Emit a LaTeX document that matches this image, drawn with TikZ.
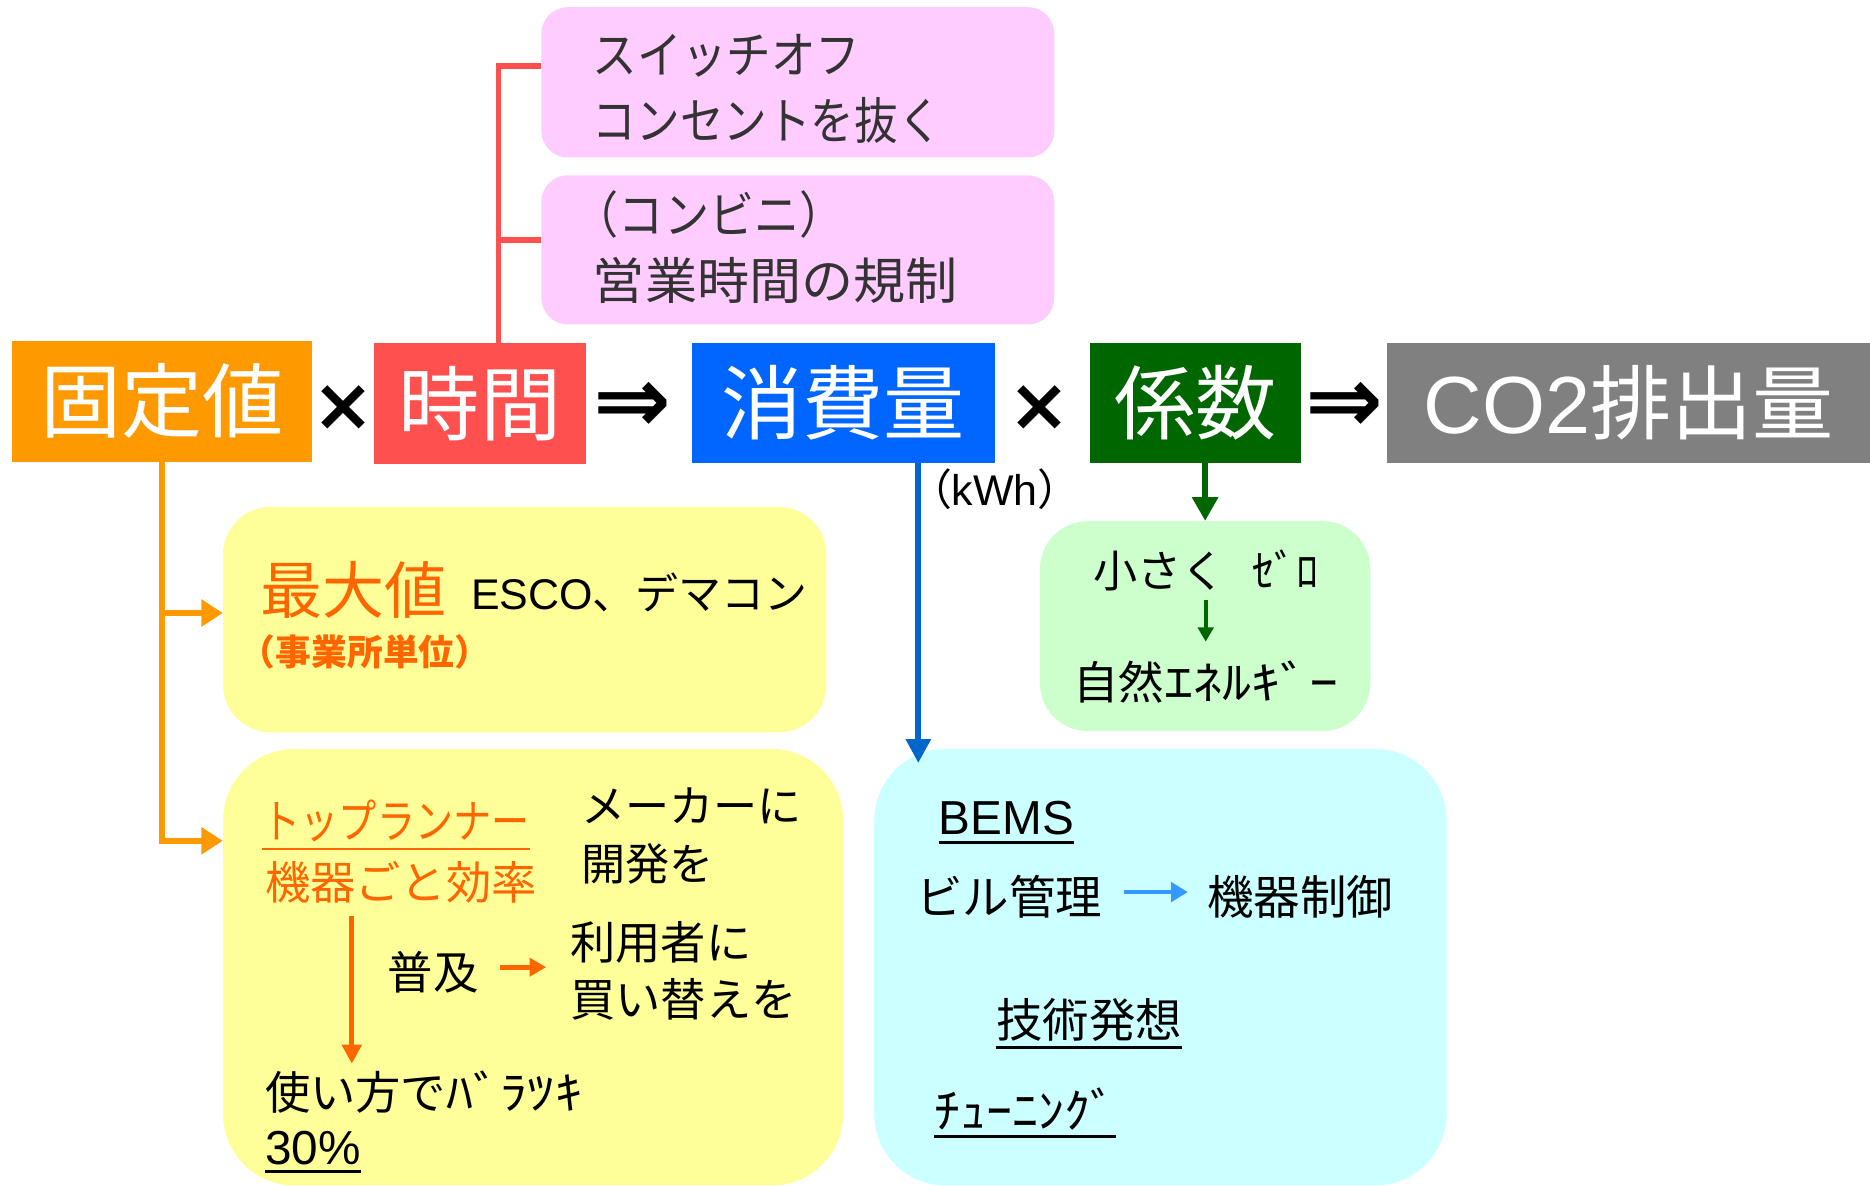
\documentclass[tikz,border=0pt]{standalone}
\usepackage{fontspec}
\usepackage{graphicx}
\setmainfont{Noto Sans CJK JP}
\newfontfamily\lat{Liberation Sans}
\newfontfamily\sym{DejaVu Sans}
\usetikzlibrary{arrows.meta,calc}
\definecolor{cOrange}{HTML}{FF9900}
\definecolor{cRed}{HTML}{FF5050}
\definecolor{cBlue}{HTML}{0066FF}
\definecolor{cDGreen}{HTML}{006600}
\definecolor{cGray}{HTML}{808080}
\definecolor{cPink}{HTML}{FFCCFF}
\definecolor{cYellow}{HTML}{FFFF99}
\definecolor{cGreenL}{HTML}{CCFFCC}
\definecolor{cCyan}{HTML}{CCFFFF}
\definecolor{cOrT}{HTML}{FF6600}
\definecolor{cBlueL}{HTML}{0066CC}
\definecolor{cSky}{HTML}{3399FF}
\definecolor{cDark}{HTML}{333333}
\newcommand\fsz[1]{\fontsize{#1}{#1}\selectfont}
\newcommand\hx[2]{\scalebox{#1}[1]{#2}}
\begin{document}
\begin{tikzpicture}[x=1pt,y=-1pt,
  bigbox/.style={inner sep=0, minimum height=100pt, text=white, font=\fsz{68}},
  txt/.style={inner sep=0, anchor=west},
  panel/.style={rounded corners=#1, inner sep=0},
  conn/.style={line width=5pt},
  uline/.style={line width=2.5pt}]
\useasboundingbox (0,0) rectangle (1568,994);
% panels
\node[panel=22pt, fill=cPink, minimum width=430pt, minimum height=126pt] (pink1) at (669,69) {};
\node[panel=22pt, fill=cPink, minimum width=430pt, minimum height=125pt] (pink2) at (669,209.5) {};
\node[panel=40pt, fill=cYellow, minimum width=506pt, minimum height=189pt] (yel1) at (440,519.5) {};
\node[panel=60pt, fill=cYellow, minimum width=520pt, minimum height=366pt] (yel2) at (447,811) {};
\node[panel=40pt, fill=cGreenL, minimum width=277pt, minimum height=176pt] (grn) at (1010.5,525) {};
\node[panel=60pt, fill=cCyan, minimum width=480pt, minimum height=366pt] (cyan) at (973,811) {};
% top row
\node[bigbox, fill=cOrange, minimum width=252pt, minimum height=101pt] (kotei) at (136,336.5) {固定値};
\node[bigbox, fill=cRed, minimum width=177pt, minimum height=101pt] (jikan) at (402.5,338.5) {時間};
\node[bigbox, fill=cBlue, minimum width=254pt] (shohi) at (707,338) {消費量};
\node[bigbox, fill=cDGreen, minimum width=177pt] (keisu) at (1002.5,338) {係数};
\node[bigbox, fill=cGray, minimum width=405pt] (co2) at (1365.5,338) {{\lat CO2}排出量};
\node[inner sep=0, font=\sym\bfseries\fsz{62}] (x1) at (288,342) {×};
\node[inner sep=0, font=\sym\bfseries\fsz{62}] (x2) at (872,342) {×};
\node[inner sep=0, font=\sym\bfseries\fsz{78}] (r1) at (530,342) {⇒};
\node[inner sep=0, font=\sym\bfseries\fsz{78}] (r2) at (1127,342) {⇒};
% pink texts
\node[txt, text=cDark, font=\fsz{42}] (p1) at (497,47) {\hx{0.89}{スイッチオフ}};
\node[txt, text=cDark, font=\fsz{42}] (p2) at (497,101) {\hx{0.87}{コンセントを抜く}};
\node[txt, text=cDark, font=\fsz{42}] (p3) at (481,180) {\hx{0.9}{（コンビニ）}};
\node[txt, text=cDark, font=\fsz{42}] (p4) at (497,235) {\hx{1.04}{営業時間の規制}};
% red connectors
\coordinate (rj) at ($(jikan.north)+(15.5,0)$);
\draw[conn, cRed] (rj) |- ($(pink1.west)+(0,-14)$);
\draw[conn, cRed] (rj) |- ($(pink2.west)+(0,-8.5)$);
% orange connectors
\draw[conn, cOrange, -{Triangle[length=18pt,width=22pt]}] (kotei.south) |- ($(yel1.west)+(0,-5.5)$);
\draw[conn, cOrange, -{Triangle[length=18pt,width=22pt]}] (kotei.south) |- ($(yel2.west)+(0,-106)$);
% blue connector
\coordinate (bs) at ($(shohi.south)+(63,0)$);
\coordinate (bt) at (bs |- cyan.north);
\coordinate (be) at ($(bt)+(0,12)$);
\draw[conn, cBlueL, -{Triangle[length=20pt,width=20pt]}] (bs) -- (be);
\node[txt, font=\fsz{36}] (kwh) at (762,410) {（{\lat kWh}）};
% green connector
\draw[conn, cDGreen, -{Triangle[length=20pt,width=21pt]}] (keisu.south -| grn.north) -- (grn.north);
\node[inner sep=0, font=\fsz{37}] (g1) at (1011,478) {小さく\hspace{0.6em}ｾﾞﾛ};
\node[inner sep=0, font=\fsz{38}] (g2) at (1011,572) {自然\hx{1.28}{ｴﾈﾙｷﾞｰ}};
\draw[line width=3pt, cDGreen, -{Triangle[length=12pt,width=13pt]}] ($(g1.south)+(0,8)$) -- ($(g1.south |- g2.north)+(0,-16)$);
% yellow 1
\node[txt, text=cOrT, font=\fsz{52}] (y1a) at (218,495) {最大値};
\node[txt, font=\fsz{36}] (y1b) at (395,497) {{\lat ESCO}、デマコン};
\node[txt, text=cOrT, font=\fsz{30}\bfseries] (y1c) at (201,547) {（事業所単位）};
% yellow 2
\node[txt, text=cOrT, font=\fsz{39}] (y2a) at (220,688) {\hx{0.82}{トップランナー}};
\draw[uline, cOrT] ($(y2a.south west)+(0,6)$) -- ($(y2a.south east)+(0,6)$);
\node[txt, text=cOrT, font=\fsz{38}] (y2b) at (222,740) {機器ごと効率};
\node[txt, font=\fsz{37}] (y2c) at (487,676) {メーカーに};
\node[txt, font=\fsz{37}] (y2d) at (487,724) {開発を};
\node[txt, font=\fsz{38}] (y2e) at (325,815) {普及};
\node[txt, font=\fsz{38}] (y2f) at (478,790) {利用者に};
\node[txt, font=\fsz{38}] (y2g) at (478,838) {買い替えを};
\node[txt, font=\fsz{38}] (y2h) at (222,916) {使い方で\hx{1.2}{ﾊﾞﾗﾂｷ}};
\node[txt, font=\lat\fsz{40}] (y2i) at (222,963) {30\%};
\draw[uline, black] ($(y2i.south west)+(0,5)$) -- ($(y2i.south east)+(0,5)$);
\coordinate (oa) at ($(y2b.south west)+(73,10)$);
\draw[line width=4pt, cOrT, -{Triangle[length=16pt,width=16pt]}] (oa) -- ($(oa |- y2h.north)+(0,-6)$);
\draw[line width=4pt, cOrT, -{Triangle[length=14pt,width=15pt]}] ($(y2e.east)+(18,-4)$) -- ($(y2f.west |- y2e.east)+(-20,-4)$);
% cyan
\node[txt, font=\lat\fsz{40}] (c1) at (787,686) {BEMS};
\draw[uline, black] ($(c1.south west)+(0,6)$) -- ($(c1.south east)+(0,6)$);
\node[txt, font=\fsz{39}] (c2) at (768,752) {ビル管理};
\node[txt, font=\fsz{39}] (c3) at (1012,752) {機器制御};
\draw[line width=4pt, cSky, -{Triangle[length=14pt,width=16pt]}] ($(c2.east)+(18,-4)$) -- ($(c3.west)+(-16,-4)$);
\node[txt, font=\fsz{39}] (c4) at (835,855) {技術発想};
\draw[uline, black] ($(c4.south west)+(0,5)$) -- ($(c4.south east)+(0,5)$);
\node[txt, font=\fsz{40}] (c5) at (783,930) {\hx{1.09}{ﾁｭｰﾆﾝｸﾞ}};
\draw[uline, black] ($(c5.south west)+(0,5)$) -- ($(c5.south east)+(0,5)$);
\end{tikzpicture}
\end{document}
